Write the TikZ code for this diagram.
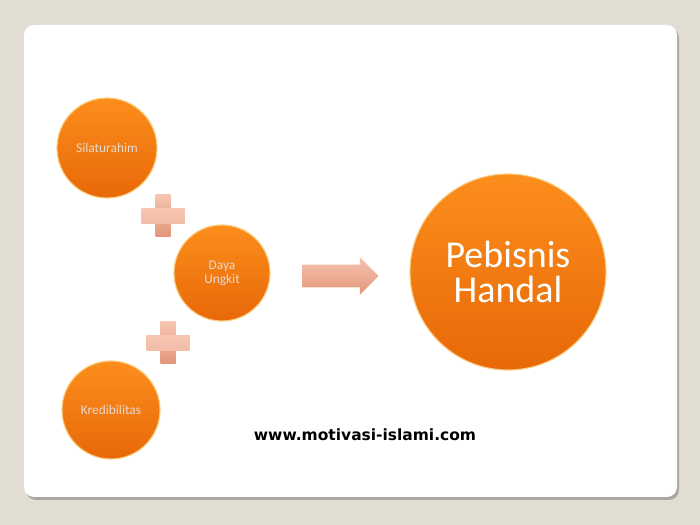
\documentclass[tikz,border=0pt]{standalone}
\usepackage{fontspec}
\setmainfont{Carlito}
\newfontfamily\urlfont{DejaVu Sans}
\usepackage{color}
\definecolor{mybeige}{RGB}{226,221,211}
\definecolor{myshadow}{RGB}{170,166,160}
\definecolor{myorangetop}{RGB}{252,142,28}
\definecolor{myorangebot}{RGB}{232,104,8}
\definecolor{myrim}{RGB}{250,205,130}
\definecolor{mylabel}{RGB}{228,218,210}
\definecolor{mypeachtop}{RGB}{246,196,176}
\definecolor{mypeachbot}{RGB}{226,150,120}
\usepackage{tikz}
\usetikzlibrary{calc,shapes.arrows,positioning}
\tikzstyle{bubble}=[circle,draw=myrim,line width=0.8pt,top color=myorangetop,bottom color=myorangebot,text=mylabel,align=center,inner sep=0pt,font=\fontsize{9.5}{11}\selectfont]
\tikzstyle{bigarrow}=[single arrow,draw=none,top color=mypeachtop,bottom color=mypeachbot,inner xsep=0pt,inner ysep=2.75mm,single arrow head extend=1.9mm,single arrow head indent=0mm,minimum height=19mm]

\begin{document}
\begin{tikzpicture}[x=0.025cm,y=-0.025cm]
\useasboundingbox (0,0) rectangle (700,525);
\fill[mybeige] (0,0) rectangle (700,525);
% card
\fill[myshadow,rounded corners=2.5mm] (26,28) rectangle (679,500);
\fill[white,rounded corners=2.5mm] (24,25) rectangle (677,497);

% circles on the left
\node [bubble, minimum size=25mm] (sil) at (107,148) {Silaturahim};
\node [bubble, minimum size=24mm] (daya) at (222,273) {Daya\\[-1pt]Ungkit};
\node [bubble, minimum size=24.5mm] (kred) at (111,410) {Kredibilitas};

% plus signs
\coordinate (plusa) at (163,216);
\coordinate (plusb) at (168,343);
\foreach \p in {plusa,plusb} {
  \shade[top color=mypeachtop,bottom color=mypeachbot] ($(\p)+(-7.5,-21)$) rectangle ($(\p)+(7.5,21)$);
  \shade[top color=mypeachtop,bottom color=mypeachtop!85!mypeachbot] ($(\p)+(-21.5,-7.5)$) rectangle ($(\p)+(21.5,7.5)$);
}

% arrow
\node [bigarrow] (arrow) at (335,276) {};

% result
\node [bubble, minimum size=49mm, text=white, font=\fontsize{27}{25}\selectfont] (peb) at (508,272) {Pebisnis\\Handal};

\node [font=\urlfont\bfseries\fontsize{11}{13}\selectfont] (url) at (365,435) {www.motivasi-islami.com};

\end{tikzpicture}
\end{document}
